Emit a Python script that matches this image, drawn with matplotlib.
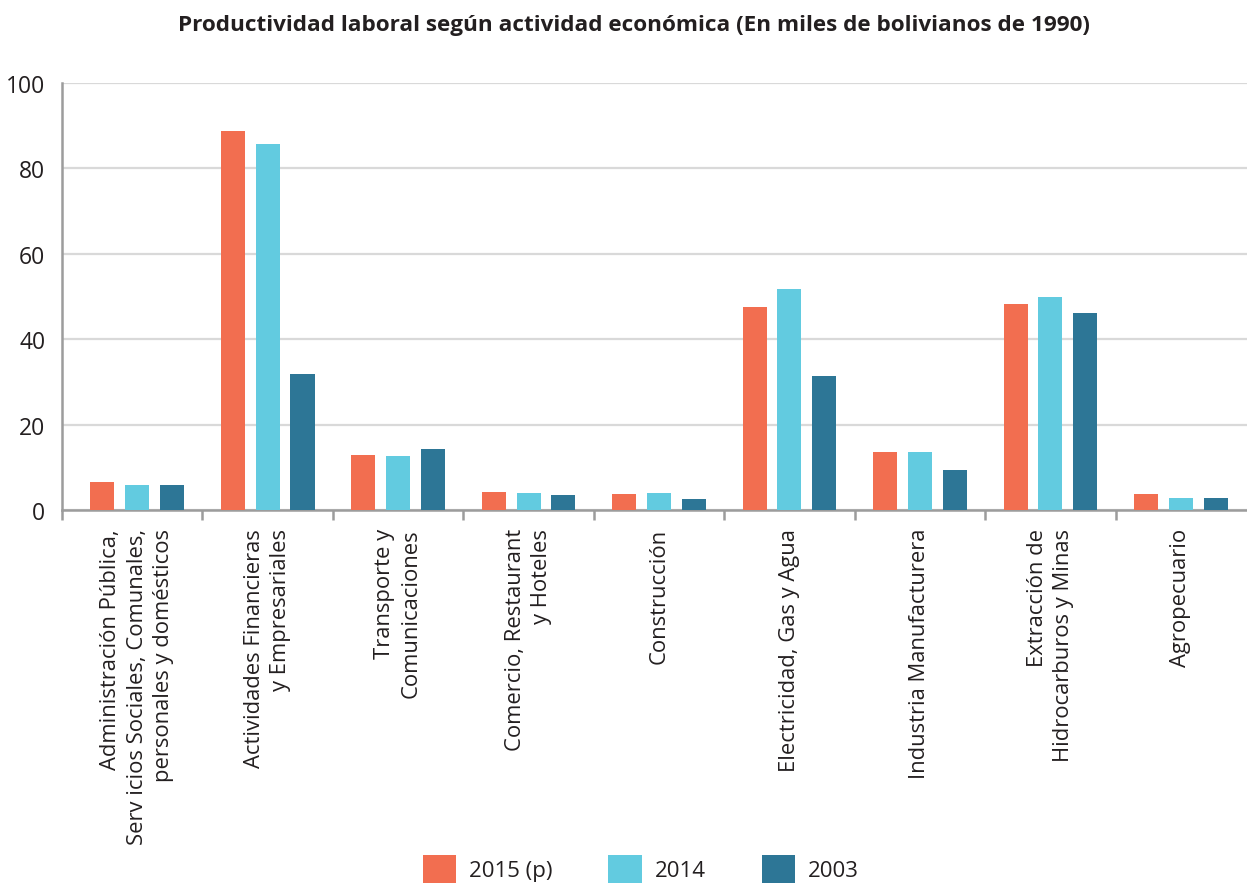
import matplotlib
matplotlib.use("Agg")
import matplotlib.pyplot as plt
import matplotlib.transforms as mtransforms
import numpy as np
from matplotlib.patches import Patch

categories = [
    "Administración Pública,\nServ icios Sociales, Comunales,\npersonales y domésticos",
    "Actividades Financieras\ny Empresariales",
    "Transporte y\nComunicaciones",
    "Comercio, Restaurant\ny Hoteles",
    "Construcción",
    "Electricidad, Gas y Agua",
    "Industria Manufacturera",
    "Extracción de\nHidrocarburos y Minas",
    "Agropecuario",
]
series_names = ["2015 (p)", "2014", "2003"]
v2015 = [6.5, 88.8, 12.9, 4.2, 3.7, 47.5, 13.6, 48.2, 3.7]
v2014 = [5.9, 85.6, 12.6, 4.0, 4.0, 51.8, 13.6, 49.9, 2.8]
v2003 = [5.9, 31.8, 14.3, 3.5, 2.6, 31.4, 9.4, 46.1, 2.8]
yticks = [0, 20, 40, 60, 80, 100]

colors = ["#F26E50", "#62CBE0", "#2D7696"]
text_color = "#231F20"

plt.rcParams["font.family"] = ["Open Sans", "DejaVu Sans"]

fig = plt.figure(figsize=(12.47, 8.87), dpi=100)
ax = fig.add_axes([62 / 1247, 376 / 887, 1 - 62 / 1247, (511 - 84) / 887])

x = np.arange(len(categories))
bw = 0.184
sp = 0.268
for i, (vals, c) in enumerate(zip([v2015, v2014, v2003], colors)):
    ax.bar(x + (i - 1) * sp, vals, width=bw, color=c, zorder=3)

ax.set_xlim(-0.575, 8.506)
ax.set_ylim(0, 100)
ax.set_yticks(yticks)
ax.tick_params(axis="y", length=0, labelsize=16.5, pad=12, labelcolor=text_color)
ax.grid(axis="y", color="#D9D9D9", linewidth=1.6, zorder=0)
ax.set_axisbelow(True)

# Major ticks at group boundaries
ax.set_xticks([-0.575] + list(np.arange(0.5, 8.0, 1.0)))
ax.set_xticklabels([])
ax.tick_params(axis="x", which="major", length=7, width=1.8, color="#9C9C9C", direction="out")

# Category labels at group centers
tr = ax.get_xaxis_transform() + mtransforms.ScaledTranslation(0, -0.18, fig.dpi_scale_trans)
for i, lab in enumerate(categories):
    ax.text(x[i], 0, lab, transform=tr, rotation=90, fontsize=15.8, color=text_color,
            va="top", ha="center", multialignment="right", linespacing=1.36)

for s in ["top", "right"]:
    ax.spines[s].set_visible(False)
ax.spines["left"].set_color("#9C9C9C")
ax.spines["left"].set_linewidth(1.8)
ax.spines["bottom"].set_color("#9C9C9C")
ax.spines["bottom"].set_linewidth(1.8)

fig.text(634 / 1247, 1 - 25 / 887,
         "Productividad laboral según actividad económica (En miles de bolivianos de 1990)",
         ha="center", va="center", fontsize=16.2, fontweight="bold", color=text_color)

handles = [Patch(facecolor=c, edgecolor="none") for c in colors]
fig.legend(handles, series_names, loc="center", bbox_to_anchor=(641 / 1247, 17 / 887),
           ncol=3, frameon=False, fontsize=16, handlelength=1.5, handleheight=1.5,
           handletextpad=0.6, columnspacing=2.5, labelcolor=text_color)

fig.savefig("out.png", dpi=100)
